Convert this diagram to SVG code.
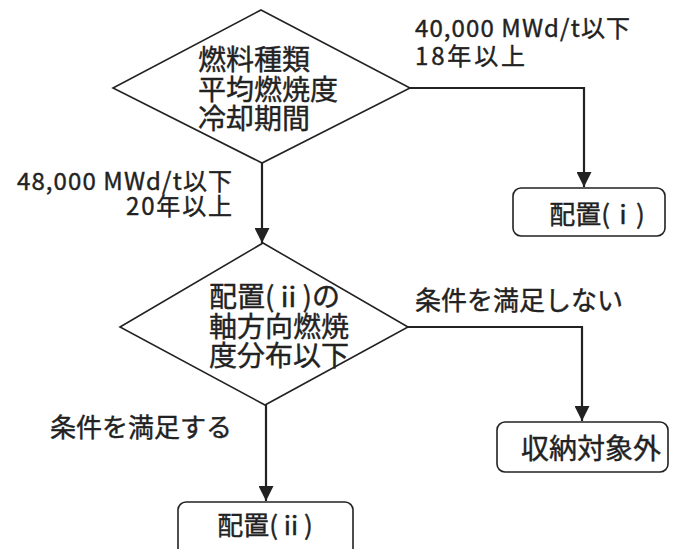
<svg xmlns="http://www.w3.org/2000/svg" width="673" height="549" viewBox="0 0 673 549">
<defs>
<marker id="arr" markerUnits="userSpaceOnUse" markerWidth="15" markerHeight="15" refX="15" refY="7.5" orient="auto">
<path d="M0,0 L15,7.5 L0,15 z" fill="#222"/>
</marker>
</defs>
<style>
.shape{fill:none;stroke:#222;stroke-width:1.6}
.box{fill:none;stroke:#222;stroke-width:1.6}
.conn{fill:none;stroke:#222;stroke-width:2.2;marker-end:url(#arr)}
text{font-family:"Noto Sans CJK JP","Noto Sans",sans-serif;fill:#222;stroke:#222;stroke-width:0.4}
.big{font-size:28px}
.lab{font-size:26px}
.mid{font-size:24px}
</style>
<rect width="673" height="549" fill="#fff"/>
<g id="connectors">
<path class="conn" d="M410,88 H584 V187"/>
<path class="conn" d="M262,163 V243"/>
<path class="conn" d="M408,327 H582 V421"/>
<path class="conn" d="M266,405 V501"/>
</g>
<g id="decision1">
<polygon class="shape" points="261,10 410,88 262,163 113,88"/>
<text class="big"><tspan x="198" y="70">燃料種類</tspan><tspan x="198" y="100">平均燃焼度</tspan><tspan x="198" y="129">冷却期間</tspan></text>
</g>
<g id="label-40000">
<text class="mid"><tspan x="415" y="37" textLength="215" lengthAdjust="spacing">40,000 MWd/t以下</tspan><tspan x="415" y="65" textLength="110" lengthAdjust="spacing">18年以上</tspan></text>
</g>
<g id="label-48000">
<text class="mid" text-anchor="end"><tspan x="232" y="190" textLength="215" lengthAdjust="spacing">48,000 MWd/t以下</tspan><tspan x="232" y="215" textLength="106" lengthAdjust="spacing">20年以上</tspan></text>
</g>
<g id="box-i">
<rect class="box" x="513" y="188" width="152" height="48" rx="8"/>
<text class="lab" x="597" y="224" text-anchor="middle">配置(ⅰ)</text>
</g>
<g id="decision2">
<polygon class="shape" points="263,243 408,327 265,405 120,327"/>
<text class="big" font-size="27.5"><tspan x="209" y="307">配置(ⅱ)の</tspan><tspan x="209" y="337">軸方向燃焼</tspan><tspan x="209" y="366">度分布以下</tspan></text>
</g>
<g id="label-ng">
<text class="lab" x="415" y="310">条件を満足しない</text>
</g>
<g id="label-ok">
<text class="lab" x="50" y="437">条件を満足する</text>
</g>
<g id="box-out">
<rect class="box" x="497" y="422" width="171" height="50" rx="8"/>
<text class="big" x="591" y="459" text-anchor="middle">収納対象外</text>
</g>
<g id="box-ii">
<rect class="box" x="178" y="502" width="175" height="70" rx="8"/>
<text class="lab" x="265" y="535" text-anchor="middle">配置(ⅱ)</text>
</g>
</svg>
